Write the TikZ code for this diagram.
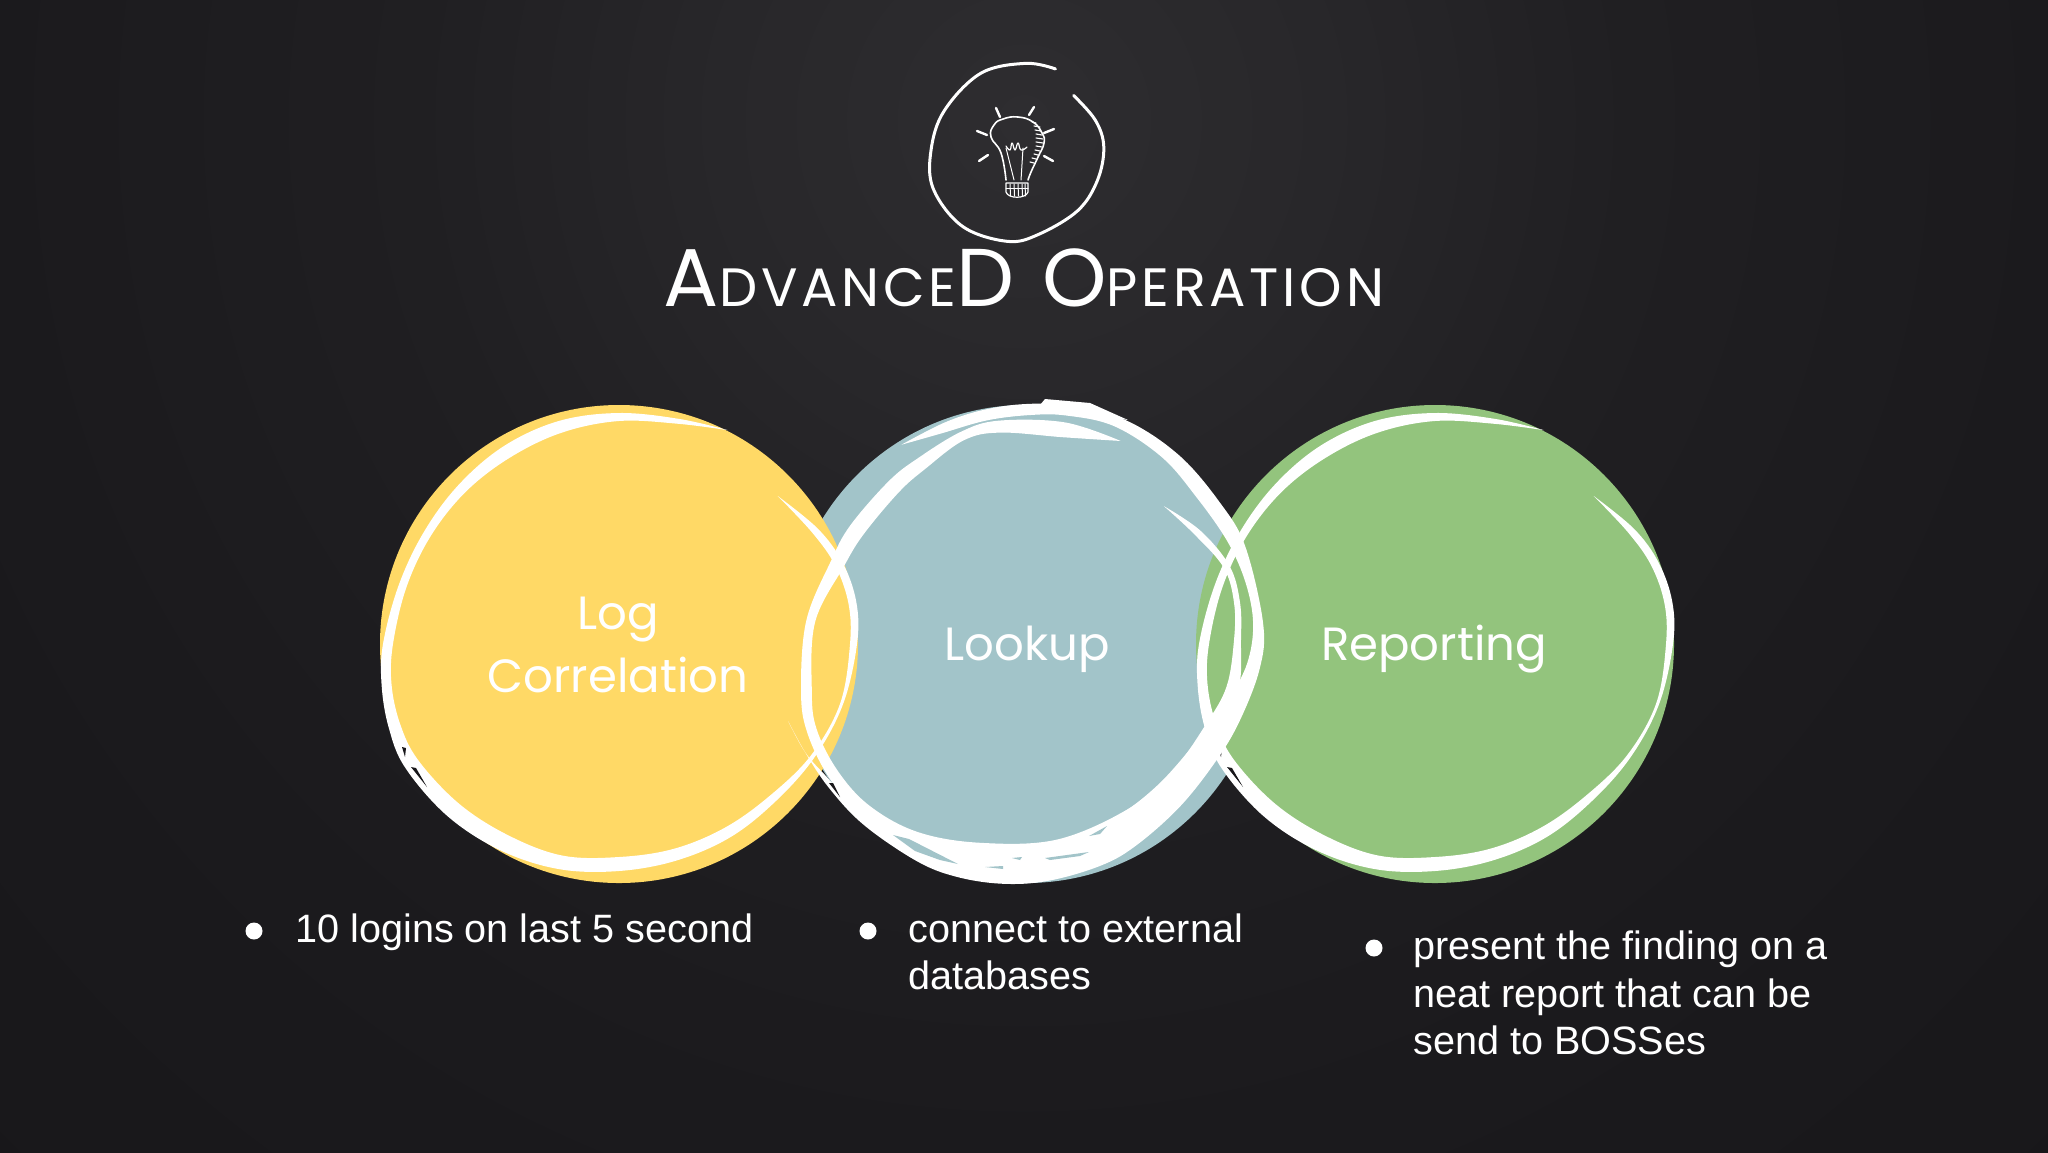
\documentclass[tikz,border=0pt]{standalone}
\usepackage{fontspec}
\setmainfont{Liberation Sans}
\newfontfamily\labfont{Poppins}
\newfontfamily\ttlfont[LetterSpace=7]{Poppins}
\definecolor{boardA}{HTML}{2E2D30}
\definecolor{boardB}{HTML}{28272A}
\definecolor{boardD}{HTML}{201F22}
\definecolor{boardE}{HTML}{1B1A1D}
\definecolor{boardC}{HTML}{18171A}
\definecolor{sunny}{HTML}{FFD966}
\definecolor{tealc}{HTML}{A2C4C9}
\definecolor{leaf}{HTML}{93C47D}
\definecolor{chalk}{HTML}{FFFFFF}
\pgfdeclareradialshading{board}{\pgfpoint{0bp}{0bp}}{color(0bp)=(boardA); color(5bp)=(boardB); color(10bp)=(boardD); color(17bp)=(boardE); color(25bp)=(boardC); color(50bp)=(boardC)}
\newcommand{\ttlbig}{\fontsize{41}{41}\ttlfont}
\newcommand{\ttlsmall}{\fontsize{27}{27}\ttlfont}
\newcommand{\ringstroke}{%
 \begin{scope}[shift={(619,644)}]
  \fill[chalk] plot[smooth,tension=.6] coordinates {
   (297:240)(285:233)(270:231)(255:231)(240:229)(225:226)(210:225)(195:228)(180:236)(170:241)(160:245)(150:247)
   (135:243)(120:238)(105:233)(90:227)(75:224)(60:223)(45:222)(30:226)(15:232)(0:238)(-10:241)(-20:238)(-30:230)(-43:217)}
   -- plot[smooth,tension=.6] coordinates {
   (-43:217)(-30:223)(-20:230)(-10:233)(0:231)(15:229)(30:222)(45:214)(60:212)(75:212)(90:213)(105:219)(120:221)
   (135:226)(150:232)(160:233)(170:231)(180:226)(195:220)(210:217)(225:216)(240:216)(255:219)(270:223)(285:228)(297:240)} -- cycle;
 \end{scope}
 \fill[boardC] (402,747) -- (406,748) -- (405,757) -- cycle (411,767) -- (416,768) -- (427,787) -- cycle;
}
\tikzset{
  x=0.5pt,y=-0.5pt,
  disc/.style={circle,minimum size=239pt,inner sep=0pt,draw=none},
  label/.style={text=chalk,font=\fontsize{23.3}{30}\labfont,align=center,inner sep=0pt},
  item/.style={text=chalk,font=\fontsize{19.8}{23.8}\selectfont,align=left,anchor=base west,inner sep=0pt},
  dotb/.style={circle,fill=chalk,minimum size=8.5pt,inner sep=0pt},
  sketch/.style={draw=chalk,line width=1.5pt,line cap=round,line join=round},
  bulb/.style={draw=chalk,line width=.8pt,line cap=round,line join=round},
}
\begin{document}
\begin{tikzpicture}
\useasboundingbox (0,0) rectangle (2048,1152);
\fill[boardC] (-10,-10) rectangle (2058,1162);
\begin{scope}
 \clip (-10,-10) rectangle (2058,1162);
 \shade[shading=board] (1024,120) circle[radius=1520];
\end{scope}
% discs
\node[disc,fill=tealc] (c2) at (1026,644) {};
\node[disc,fill=sunny] (c1) at (619,644) {};
\node[disc,fill=leaf] (c3) at (1435,644) {};
% chalk rings
\ringstroke
\begin{scope}[xshift=408pt]\ringstroke\end{scope}
\begin{scope}[shift={(1026,644)}]
\fill[chalk] plot[smooth,tension=.6] coordinates {
 (238:235)(250:236)(260:238)(270:240)(280:242)(294:245)(309:243)(324:240)(336:240)(355:238)(366:235)(380:227)(392:223)
 (407:224)(422:230)(432:234)(445:238)(456:241)(467:243)(477:243)(492:243)(504:244)(514:246)(522:250)}
 -- plot[smooth,tension=.6] coordinates {
 (522:250)(514:246)(507:240)(495:235)(481:226)(468:214)(457:208)(441:201)(425:196)(407:193)(387:198)(375:210)(365:222)(355:228)
 (344.5:228)(333:226)(319:225)(306:231)(292:235)(280:232)(271:229)(260:227)(248:227)(238:235)} -- cycle;
\fill[chalk] plot[smooth,tension=.6] coordinates {
 (-65:224)(-80:225)(-97:225)(-107:222)(-120:215)(-130:213)(-146:212)(-157:212)(-174:221)(168:230)(158:236)(146:238)(134:238)(120:232)
 (103:222)(81:219)(58:204)(41:202)(24:206)(12:217)(-1:215)(-11:218)(-21:218)(-33:208)(-45:195)}
 -- plot[smooth,tension=.6] coordinates {
 (-45:195)(-33:201)(-21:212)(-11:212)(-1:208)(12:205)(24:197)(41:194)(58:194)(81:198)(103:204)(120:217)(134:225)(146:227)(158:226)
 (168:219)(-174:212)(-157:198)(-146:196)(-130:198)(-120:202)(-107:213)(-97:213)(-80:210)(-65:224)} -- cycle;
\end{scope}
\fill[chalk] (1040,405) -- (1045,399) -- (1090,403) -- (1128,420) -- (1100,416) -- (1060,412) -- cycle;
\fill[boardC] (829,783) -- (833,783) -- (840,797) -- cycle;
\fill[tealc] (893,835) -- (909,839) -- (958,864) -- (940,860) -- (915,851) -- cycle
 (985,867) -- (1003,866) -- (1003,869) -- cycle (1012,858) -- (1022,857) -- (1020,860) -- cycle
 (1045,858) -- (1089,852) -- (1080,856) -- (1050,860) -- cycle (1089,836) -- (1107,826) -- (1100,834) -- cycle;
% labels
\node[label,anchor=base] (l1) at (618,629) {Log};
\node[label,anchor=base] (l1b) at (618,692) {Correlation};
\node[label,anchor=base] (l2) at (1027,660) {Lookup};
\node[label,anchor=base] (l3) at (1434,660) {Reporting};
% light bulb emblem
\begin{scope}[shift={(1018,153)}]
\draw[sketch] plot[smooth,tension=.6] coordinates {(-66:92)(-85:90)(-115:88)(-150:85)(-178:87)(-203:92)(-233:92)(-263:89)(-284:84)(-316:83)(-341:84)(-364:86)(-383:84)(-406:80)};
\end{scope}
\draw[bulb,line width=1.2pt] (996,108) -- (1000,117) (1034,107) -- (1029,115) (977,131) -- (987,135) (1054,129) -- (1044,133) (979,161) -- (988,155) (1053,161) -- (1044,156);
\draw[bulb] plot[smooth,tension=.8] coordinates {(1006,180)(1001,153)(991,137)(994,125)(1003,119)(1018,117)(1033,122)(1042,133)(1044,143)(1038,157)(1031,172)(1028,180)};
\draw[bulb,line width=.5pt] (1006,148) -- (1014,180) (1023,148) -- (1021,180);
\draw[bulb,line width=.6pt] plot[smooth,tension=.8] coordinates {(1006,146)(1010,150)(1012,143)(1015,150)(1018,143)(1021,150)(1027,147)};
\foreach \yy/\xa/\xb in {122/1032/1036,126/1034/1040,130/1035/1041,134/1036/1042,138/1036/1043,142/1036/1043,146/1036/1042,150/1035/1040,154/1034/1038,158/1032/1036,162/1030/1034}
 \draw[bulb,line width=.55pt] (\xa,\yy) -- (\xb,\yy+1);
\draw[bulb,line width=.6pt] (1006,183) -- (1028,183) -- (1028,192) .. controls (1026,199) and (1008,199) .. (1006,192) -- cycle;
\foreach \xx in {1010,1014,1018,1022,1025}
 \draw[bulb,line width=.5pt] (\xx,184) -- (\xx+.5,196);
\draw[bulb,line width=.5pt] (1006,188) -- (1028,188);
% title
\node[text=chalk,inner sep=0pt,anchor=base] (title) at (1024,306) {{\ttlbig A}{\ttlsmall DVANCE}{\ttlbig D O}{\ttlsmall PERATION}};
% bullets
\node[dotb] (b1) at (254,931) {};
\node[dotb] (b2) at (868,931) {};
\node[dotb] (b3) at (1374,948) {};
\node[item] (t1) at (295,942) {10 logins on last 5 second};
\node[item] (t2) at (908,942) {connect to external};
\node[item] (t2b) at (908,989) {databases};
\node[item] (t3) at (1413,959) {present the finding on a};
\node[item] (t3b) at (1413,1007) {neat report that can be};
\node[item] (t3c) at (1413,1054) {send to BOSSes};
\end{tikzpicture}
\end{document}
